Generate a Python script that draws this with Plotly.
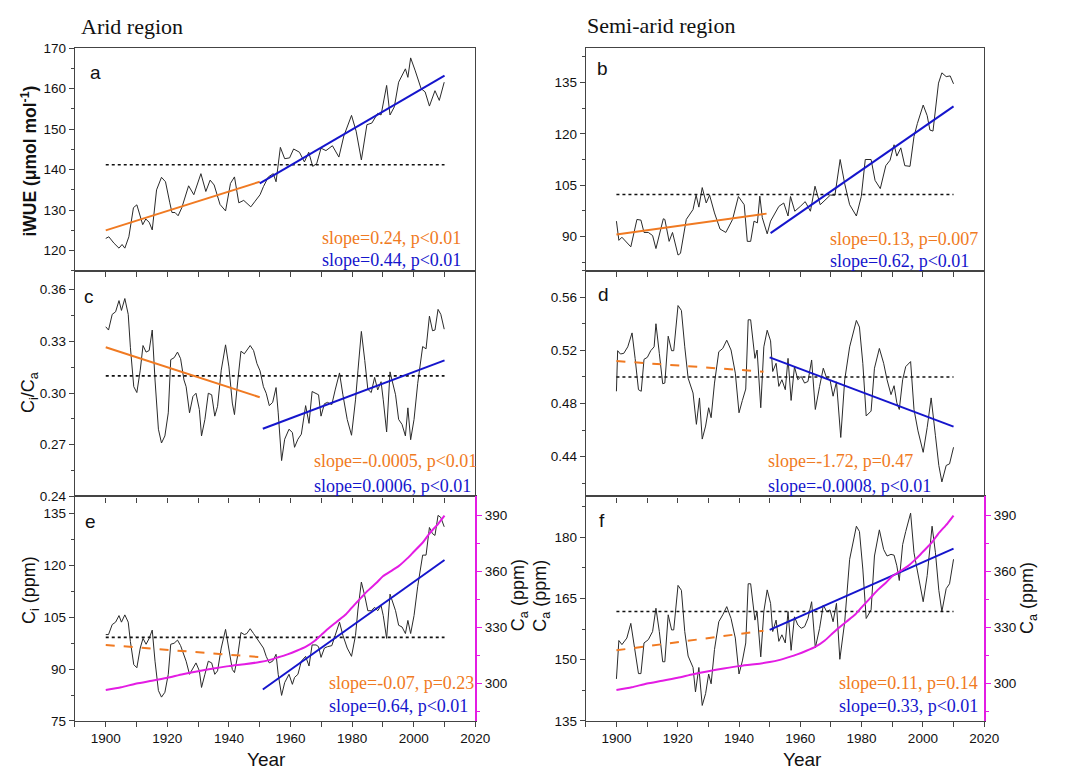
import plotly.graph_objects as go

# ---------------- data ----------------
a_pts = [(1900,123.0),(1901,123.4),(1902.7,121.8),(1904.3,120.6),(1905.3,121.5),(1906.2,120.6),(1907.5,123.4),
         (1909,130.6),(1910.1,131.3),(1912,126.4),(1913,127.8),(1914.1,127.0),(1915.1,125.1),(1916.5,135.0),
         (1918.1,138.1),(1919.4,137.0),(1920.8,131.8),(1921.5,129.4),(1922.5,129.4),(1923.5,128.6),(1924.7,130.6),
         (1926.9,136.0),(1928.6,133.8),(1930.9,139.0),(1932.5,134.6),(1933.9,137.4),(1935.2,136.2),(1937.1,131.4),
         (1938.9,129.8),(1940.5,136.6),(1941.8,138.2),(1943.2,131.8),(1944.8,132.4),(1945.8,131.8),(1947.1,130.8),
         (1948.5,132.2),(1950.1,133.8),(1951.2,135.8),(1952.8,138.2),(1954.4,139.0),(1955.3,137.0),(1956.7,145.5),
         (1958.1,142.7),(1959.7,142.9),(1961,145.1),(1962.9,144.3),(1964.5,141.9),(1965.9,144.3),(1967.2,140.8),
         (1968.5,141.5),(1969.9,145.3),(1971.5,144.7),(1973.6,145.9),(1975.7,143.1),(1977.3,148.3),(1979.8,153.4),
         (1981.3,149.5),(1983,142.4),(1984.8,151.1),(1986.4,151.5),(1988.3,153.9),(1989.4,153.5),(1991.2,160.8),
         (1992.3,153.5),(1993.7,155.5),(1995.1,161.6),(1997.3,164.9),(1998.1,162.8),(1999,167.6),(2000.5,164.4),
         (2002.4,160.0),(2003.7,159.2),(2005.1,155.7),(2006.9,159.5),(2008.3,157.1),(2009.9,161.6)]

b_pts = [(1900,94.5),(1900.8,88.9),(1901.8,89.8),(1903.4,88.4),(1904.7,87.0),(1906.7,95.0),(1908,94.8),(1909,91.2),
         (1910.4,91.2),(1911.8,90.3),(1912.9,86.5),(1915.3,95.2),(1915.8,95.0),(1917.2,88.6),(1918.3,91.2),(1920.1,84.6),
         (1920.9,85.1),(1922.8,95.0),(1925,97.9),(1926,102.1),(1926.9,98.6),(1928,104.3),(1929.3,99.8),(1930.4,102.1),
         (1932,96.9),(1933.8,92.2),(1935.7,91.2),(1937.9,95.0),(1939.8,101.7),(1941.7,99.3),(1942.7,88.6),(1943.8,88.6),
         (1944.9,94.5),(1946,94.0),(1946.8,101.8),(1947.6,95.5),(1949.2,90.8),(1950.3,94.5),(1951.7,96.9),(1953,98.8),
         (1954.6,99.8),(1956,96.0),(1956.8,101.7),(1958.2,97.4),(1960,98.8),(1961.6,100.2),(1963.3,97.4),(1964.8,104.7),
         (1966.5,99.3),(1968.2,100.7),(1969.8,102.1),(1971.3,102.1),(1973,112.5),(1974.5,105.4),(1976.1,99.3),
         (1978.3,96.0),(1979.9,101.7),(1981.2,112.5),(1983.1,112.5),(1984.4,106.4),(1986.1,104.0),(1987.9,110.7),
         (1989.3,112.3),(1990.6,116.8),(1991.5,113.5),(1992.8,115.9),(1994.1,110.7),(1995.8,110.5),(1997.1,119.2),
         (1998.2,123.0),(2000.1,128.4),(2001.4,125.3),(2002.3,121.1),(2003.3,120.8),(2005.1,134.8),(2006.2,137.8),
         (2007.6,136.7),(2008.9,136.9),(2010,134.6)]

c_pts = [(1900,0.3385),(1900.9,0.3366),(1902.1,0.3457),(1903.2,0.3472),(1904.3,0.3537),(1905.1,0.348),(1906.2,0.3549),
         (1907.3,0.3457),(1908,0.3266),(1909.1,0.3037),(1910.1,0.3003),(1911.2,0.3133),(1912.1,0.3276),(1913.1,0.3238),
         (1914.1,0.3247),(1915.1,0.3366),(1916,0.3076),(1917.1,0.279),(1918.1,0.271),(1919.2,0.2751),(1920.3,0.2885),
         (1921.1,0.3194),(1922.2,0.3205),(1923.3,0.3238),(1924.3,0.32),(1925.4,0.3076),(1926.1,0.3037),(1927.2,0.2885),
         (1928.3,0.298),(1929.3,0.2999),(1930.4,0.2904),(1931.1,0.2751),(1932.2,0.2847),(1933.3,0.2999),(1934.4,0.299),
         (1935.4,0.2866),(1936.3,0.2923),(1937.5,0.3133),(1938.9,0.328),(1940,0.3152),(1941.1,0.2942),(1941.8,0.2875),
         (1942.9,0.3076),(1943.9,0.3243),(1945,0.3228),(1945.8,0.3247),(1946.9,0.3276),(1948,0.3247),(1949.1,0.3171),
         (1950.1,0.3129),(1951.2,0.3037),(1952.1,0.2999),(1953.1,0.2927),(1954.2,0.2946),(1955.3,0.3032),(1956,0.2885),
         (1957.1,0.2608),(1958.1,0.2732),(1959.5,0.279),(1960.6,0.2771),(1961.3,0.2685),(1962.4,0.2732),(1963.5,0.2761),
         (1964.9,0.2927),(1966,0.2824),(1967,0.3009),(1968.3,0.2999),(1969.1,0.299),(1969.9,0.2866),(1971,0.2938),
         (1972,0.2946),(1973.4,0.2933),(1974.5,0.3018),(1975.9,0.3117),(1977,0.299),(1978.4,0.2847),(1979.8,0.2755),
         (1981.1,0.2961),(1981.9,0.3133),(1983,0.3358),(1984.1,0.319),(1985.1,0.3022),(1986.2,0.3003),(1987.3,0.3091),
         (1988.3,0.3018),(1989.4,0.3066),(1990.1,0.2961),(1991.2,0.2774),(1992.3,0.3123),(1993.3,0.3047),(1994.1,0.2990),
         (1995.1,0.2847),(1996.2,0.2818),(1997.3,0.2751),(1998.1,0.2914),(1999,0.2729),(2000.1,0.2847),(2001.3,0.3057),
         (2002.9,0.327),(2004,0.3257),(2005.1,0.3447),(2006.1,0.3362),(2006.9,0.3366),(2007.9,0.3486),(2008.8,0.3457),
         (2009.9,0.3371)]

d_pts = [(1900,0.4892),(1900.4,0.5198),(1901.3,0.5173),(1902.4,0.5178),(1903.7,0.5227),(1905.1,0.5332),(1906.1,0.514),
         (1907.2,0.4904),(1908.1,0.4892),(1909,0.5133),(1910.1,0.5148),(1911.2,0.5198),(1912.3,0.5227),(1912.9,0.5401),
         (1914,0.5178),(1915.1,0.4949),(1915.8,0.4954),(1916.9,0.5307),(1918,0.5198),(1918.7,0.5198),(1920.1,0.5538),
         (1921.2,0.5501),(1922.3,0.5227),(1923.4,0.4991),(1925,0.4879),(1926.1,0.4643),(1927.1,0.4842),(1928,0.4532),
         (1929.1,0.463),(1930.1,0.4768),(1930.9,0.4693),(1932,0.4954),(1933.4,0.519),(1934.7,0.5215),(1936,0.5277),
         (1937.4,0.5203),(1938.8,0.5029),(1940,0.473),(1941.1,0.4823),(1942.2,0.4909),(1943,0.5431),(1943.8,0.5431),
         (1945.2,0.514),(1945.9,0.5203),(1947.1,0.4768),(1948.1,0.5227),(1949.2,0.5352),(1950.3,0.5272),(1951,0.5041),
         (1952.1,0.5103),(1953,0.4929),(1954,0.4979),(1955.1,0.4904),(1956,0.514),(1957,0.4823),(1958.1,0.5078),
         (1959.2,0.4979),(1960.3,0.5004),(1961.4,0.4954),(1962.5,0.4966),(1963.7,0.5128),(1964.9,0.4755),(1966.3,0.4929),
         (1967.5,0.5066),(1968.6,0.4991),(1969.7,0.4979),(1970.7,0.4855),(1971.8,0.4963),(1973.2,0.4544),(1974.5,0.4979),
         (1976.1,0.5227),(1978.3,0.5426),(1979.3,0.5376),(1980.4,0.5103),(1981.5,0.4706),(1983.1,0.4743),(1984.2,0.5066),
         (1985.8,0.5215),(1987.2,0.5103),(1988.3,0.4979),(1989.6,0.4867),(1990.6,0.4934),(1991.5,0.4805),(1992.3,0.4755),
         (1993.4,0.4979),(1994.4,0.5078),(1996,0.5116),(1997.1,0.4755),(1998.4,0.4594),(2000.1,0.4432),(2001.4,0.4619),
         (2002.7,0.4842),(2004.1,0.4557),(2005.2,0.4333),(2006.2,0.4209),(2007.6,0.4333),(2008.7,0.4345),(2010,0.447)]

e_pts = [(1900,100.0),(1900.9,100.0),(1902.1,102.9),(1903.2,103.6),(1904.3,105.5),(1905.1,103.6),(1906.2,105.7),
         (1907.3,103.6),(1908,98.0),(1909.1,91.3),(1910.1,90.4),(1911.2,96.1),(1912.1,98.9),(1913.1,97.2),(1914.1,98.9),
         (1915.1,101.3),(1916,92.3),(1917.1,83.8),(1918.1,81.9),(1919.2,83.3),(1920.3,88.5),(1921.1,97.2),(1922.2,97.5),
         (1923.3,98.4),(1924.3,96.8),(1925.4,94.2),(1926.1,92.3),(1927.2,88.5),(1928.3,90.4),(1929.3,91.8),(1930.4,89.5),
         (1931.1,84.7),(1932.2,88.5),(1933.3,92.3),(1934.4,91.8),(1935.4,88.5),(1936.3,89.5),(1937.5,96.1),(1938.9,101.5),
         (1940,96.1),(1941.1,89.9),(1941.8,89.0),(1942.9,94.2),(1943.9,100.6),(1945,100.0),(1945.8,100.3),(1946.9,101.7),
         (1948,100.3),(1949.1,98.9),(1950.1,97.5),(1951.2,96.1),(1952.1,93.7),(1953.1,91.8),(1954.2,92.3),(1955.3,94.3),
         (1956,88.5),(1957.1,82.4),(1958.1,86.1),(1959.5,88.5),(1960.6,85.6),(1961.3,87.6),(1962.4,88.5),(1963.5,92.3),
         (1964.9,93.7),(1966,90.9),(1967,97.0),(1968.3,97.0),(1969.1,96.5),(1969.9,93.4),(1971,96.1),(1972,96.5),
         (1973.4,96.8),(1974.5,99.8),(1975.9,103.6),(1977,99.8),(1978.4,96.1),(1979.8,93.7),(1981.1,99.8),(1981.9,107.4),
         (1983,115.2),(1984.1,111.2),(1985.1,106.9),(1986.2,106.9),(1987.3,107.9),(1988.3,106.9),(1989.4,108.4),
         (1990.1,105.5),(1991.2,98.9),(1992.3,111.7),(1993.3,109.3),(1994.1,106.9),(1995.1,102.7),(1996.2,102.2),
         (1997.3,100.3),(1998.1,104.1),(1999,100.3),(2000.1,105.5),(2001.3,114.0),(2002.9,123.0),(2004,123.0),
         (2005.1,131.0),(2006.1,129.2),(2006.9,128.7),(2007.9,134.5),(2008.8,133.9),(2009.9,131.2)]

f_pts = [(1900,145.3),(1900.8,154.7),(1901.8,153.7),(1903.4,155.3),(1904.7,158.9),(1905.8,152.9),(1907.2,146.6),
         (1908,146.6),(1909,154.1),(1910.4,154.9),(1911.8,156.9),(1912.9,162.6),(1914,156.9),(1915.1,149.5),(1915.8,149.5),
         (1916.9,161.0),(1918,157.3),(1918.7,157.3),(1920.1,168.2),(1921.2,167.0),(1922.3,156.9),(1923.4,150.9),
         (1925,148.1),(1925.8,142.1),(1926.9,148.1),(1928,138.8),(1929.1,141.7),(1930.1,146.5),(1930.9,144.1),
         (1932,152.5),(1933.4,159.3),(1934.7,161.0),(1936,163.0),(1937.4,160.1),(1938.8,155.3),(1940,146.5),
         (1941.1,149.7),(1942.2,154.1),(1943,168.6),(1943.8,168.6),(1945.2,159.7),(1945.9,161.7),(1947.1,150.7),
         (1948.1,161.8),(1949.2,167.1),(1950.3,163.8),(1951,156.9),(1952.1,159.7),(1953,154.5),(1954,156.1),
         (1955.1,154.1),(1956,161.8),(1957,152.3),(1958.1,160.5),(1959.2,158.5),(1960.3,157.7),(1961.4,158.1),
         (1962.5,160.1),(1963.7,164.2),(1964.9,152.9),(1966.3,157.7),(1967.5,163.4),(1968.6,161.8),(1969.7,162.2),
         (1970.7,159.3),(1971.8,163.8),(1972.9,150.1),(1974.5,159.3),(1976.1,174.6),(1978.3,182.7),(1979.3,181.4),
         (1980.4,172.2),(1981.5,160.1),(1983.1,162.2),(1984.2,175.4),(1985.8,181.8),(1987.2,177.0),(1988.3,175.4),
         (1989.6,175.8),(1990.6,175.6),(1991.5,173.0),(1992.3,169.4),(1993.4,178.2),(1994.4,181.4),(1996,185.9),
         (1997.1,176.2),(1998.4,170.6),(2000.1,164.2),(2001.4,170.6),(2003,182.7),(2004.1,176.2),(2005.2,167.0),
         (2006.2,161.8),(2007.6,167.4),(2008.7,168.6),(2010,174.6)]

ca_pts = [(1900,296.5),(1905,298.0),(1910,300.0),(1915,301.5),(1920,303.1),(1925,305.0),(1930,306.6),(1935,308.0),
          (1940,309.3),(1945,310.3),(1950,311.5),(1953,312.5),(1956,314.0),(1959,315.6),(1962,317.5),(1965,319.7),
          (1968,323.0),(1970,326.0),(1972,329.0),(1975,333.0),(1978,337.0),(1980,340.7),(1983,346.0),(1985,349.5),
          (1988,354.0),(1990,357.3),(1993,360.5),(1995,362.6),(1998,367.0),(2000,370.4),(2003,375.5),(2005,380.0),
          (2008,385.5),(2010,389.7)]

mean_years = [1900, 2010]
means = {'a': 141.2, 'b': 102.3, 'c': 0.310, 'd': 0.500, 'e': 99.2, 'f': 161.8}

# trend lines: (years, values) for the two periods
early_trend = {'a': ([1900, 1950], [125.0, 137.0]), 'b': ([1900, 1949], [90.6, 96.7]),
               'c': ([1900, 1950], [0.3266, 0.2976]), 'd': ([1900, 1948], [0.512, 0.504]),
               'e': ([1900, 1951], [97.0, 93.4]), 'f': ([1900, 1948], [152.3, 157.1])}
late_trend = {'a': ([1950, 2010], [136.6, 163.2]), 'b': ([1950.3, 2010], [91.0, 128.0]),
              'c': ([1951, 2010], [0.2793, 0.3190]), 'd': ([1950, 2010], [0.5148, 0.4626]),
              'e': ([1951, 2010], [84.1, 121.6]), 'f': ([1950, 2010], [157.3, 177.2])}
early_dashed = {'a': False, 'b': False, 'c': False, 'd': True, 'e': True, 'f': True}

early_text = {'a': 'slope=0.24, p<0.01', 'b': 'slope=0.13, p=0.007', 'c': 'slope=-0.0005, p<0.01',
              'd': 'slope=-1.72, p=0.47', 'e': 'slope=-0.07, p=0.23', 'f': 'slope=0.11, p=0.14'}
late_text = {'a': 'slope=0.44, p<0.01', 'b': 'slope=0.62, p<0.01', 'c': 'slope=0.0006, p<0.01',
             'd': 'slope=-0.0008, p<0.01', 'e': 'slope=0.64, p<0.01', 'f': 'slope=0.33, p<0.01'}

series = {'a': a_pts, 'b': b_pts, 'c': c_pts, 'd': d_pts, 'e': e_pts, 'f': f_pts}

# ---------------- layout geometry ----------------
W, H = 1083, 778
def px(x): return x / W
def py(y): return 1 - y / H

col_px = {'L': (76, 482), 'R': (594, 998)}
row_px = [(42, 269), (269, 499), (499, 728)]
panels = [('a', 0, 'L'), ('b', 0, 'R'), ('c', 1, 'L'), ('d', 1, 'R'), ('e', 2, 'L'), ('f', 2, 'R')]

yranges = {'a': [115, 170], 'b': [80, 145], 'c': [0.24, 0.371], 'd': [0.41, 0.58], 'e': [75, 140], 'f': [135, 190]}
yticks = {'a': (120, 10, 5), 'b': (90, 15, 7.5), 'c': (0.24, 0.03, 0.015), 'd': (0.44, 0.04, 0.02),
          'e': (75, 15, 7.5), 'f': (135, 15, 7.5)}
yfmt = {'c': '.2f', 'd': '.2f'}

ORANGE = '#F07A22'
BLUE = '#1515CC'
MAGENTA = '#E31CE3'
AXC = '#444444'
tickfont = dict(family='Liberation Sans, Arial, sans-serif', size=13.5, color='#111111')

fig = go.Figure()
layout = {}

for i, (k, r, c) in enumerate(panels, start=1):
    xn = 'x' if i == 1 else f'x{i}'
    yn = 'y' if i == 1 else f'y{i}'
    pts = series[k]
    fig.add_trace(go.Scatter(x=[p[0] for p in pts], y=[p[1] for p in pts], mode='lines',
                             line=dict(color='#2a2a2a', width=1), xaxis=xn, yaxis=yn, showlegend=False))
    fig.add_trace(go.Scatter(x=mean_years, y=[means[k]] * 2, mode='lines',
                             line=dict(color='#111111', width=1.6, dash='dot'), xaxis=xn, yaxis=yn, showlegend=False))
    ex, ey = early_trend[k]
    fig.add_trace(go.Scatter(x=ex, y=ey, mode='lines',
                             line=dict(color=ORANGE, width=2, dash='dash' if early_dashed[k] else 'solid'),
                             xaxis=xn, yaxis=yn, showlegend=False))
    lx, ly = late_trend[k]
    fig.add_trace(go.Scatter(x=lx, y=ly, mode='lines', line=dict(color=BLUE, width=2),
                             xaxis=xn, yaxis=yn, showlegend=False))

    x0, x1 = col_px[c]
    y0, y1 = row_px[r]
    bottom = (r == 2)
    layout['xaxis' if i == 1 else f'xaxis{i}'] = dict(
        domain=[px(x0), px(x1)], anchor=yn, range=[1890, 2020], showline=True, linecolor=AXC, linewidth=1.3,
        mirror=True, ticks='outside', ticklen=5, tickwidth=1, tickcolor=AXC, tick0=1900, dtick=20,
        minor=dict(dtick=10, tick0=1900, ticks='outside', ticklen=5, tickcolor=AXC),
        showgrid=False, zeroline=False, showticklabels=bottom, tickfont=tickfont)
    t0, dt, mdt = yticks[k]
    ya = dict(domain=[py(y1), py(y0)], anchor=xn, range=yranges[k], showline=True, linecolor=AXC,
              linewidth=1.3, mirror=(r != 2), ticks='outside', ticklen=5, tickwidth=1, tickcolor=AXC,
              tick0=t0, dtick=dt, minor=dict(dtick=mdt, tick0=t0, ticks='outside', ticklen=3, tickcolor=AXC),
              showgrid=False, zeroline=False, tickfont=tickfont)
    if k in yfmt:
        ya['tickformat'] = yfmt[k]
    layout['yaxis' if i == 1 else f'yaxis{i}'] = ya

# Ca curves on secondary axes of e and f
for j, (base, xn) in enumerate([(5, 'x5'), (6, 'x6')], start=7):
    fig.add_trace(go.Scatter(x=[p[0] for p in ca_pts], y=[p[1] for p in ca_pts], mode='lines',
                             line=dict(color=MAGENTA, width=2, shape='spline', smoothing=0.6),
                             xaxis=xn, yaxis=f'y{j}', showlegend=False))
    layout[f'yaxis{j}'] = dict(overlaying=f'y{base}', side='right', anchor=xn, range=[280, 400],
                               showline=True, linecolor=MAGENTA, linewidth=1.5, ticks='outside', ticklen=5,
                               tickcolor=MAGENTA, tick0=300, dtick=30,
                               minor=dict(dtick=15, tick0=300, ticks='outside', ticklen=3, tickcolor=MAGENTA),
                               showgrid=False, zeroline=False, tickfont=tickfont)

# ---------------- annotations ----------------
ann = []
serif = 'Liberation Serif, Times New Roman, serif'
sans = 'Liberation Sans, Arial, sans-serif'

def add(text, x, y, size, color='#111111', family=sans, xanchor='center', angle=0):
    ann.append(dict(text=text, x=px(x), y=py(y), xref='paper', yref='paper', showarrow=False,
                    xanchor=xanchor, yanchor='middle', textangle=angle,
                    font=dict(family=family, size=size, color=color)))

add('Arid region', 80, 20, 22, family=serif, xanchor='left')
add('Semi-arid region', 593, 19, 22, family=serif, xanchor='left')

letter_pos = {'a': (97, 67), 'b': (611, 63), 'c': (90, 295), 'd': (612, 293), 'e': (92, 525), 'f': (610, 524)}
for k, (x, y) in letter_pos.items():
    add(k, x, y, 19)

slope_pos = {'a': (325, 236, 258), 'b': (840, 237, 259), 'c': (316, 463, 488),
             'd': (777, 463, 488), 'e': (332, 689, 713), 'f': (849, 689, 713)}
for k, (x, yo, yb) in slope_pos.items():
    add(early_text[k], x, yo, 18, color=ORANGE, family=serif, xanchor='left')
    add(late_text[k], x, yb, 18, color=BLUE, family=serif, xanchor='left')

add('<b>iWUE (μmol mol<sup>-1</sup>)</b>', 29, 157, 17.5, angle=-90)
add('C<sub>i</sub>/C<sub>a</sub>', 30, 393, 18, angle=-90)
add('C<sub>i</sub> (ppm)', 31, 595, 18, angle=-90)
add('C<sub>a</sub> (ppm)', 527, 600, 18, angle=-90)
add('C<sub>a</sub> (ppm)', 549, 600, 18, angle=-90)
add('C<sub>a</sub> (ppm)', 1043, 603, 18, angle=-90)
add('Year', 270, 767, 19)
add('Year', 814, 767, 19)

fig.update_layout(width=W, height=H, margin=dict(l=0, r=0, t=0, b=0), paper_bgcolor='white',
                  plot_bgcolor='white', showlegend=False, annotations=ann, **layout)

fig.write_html('out.html')
